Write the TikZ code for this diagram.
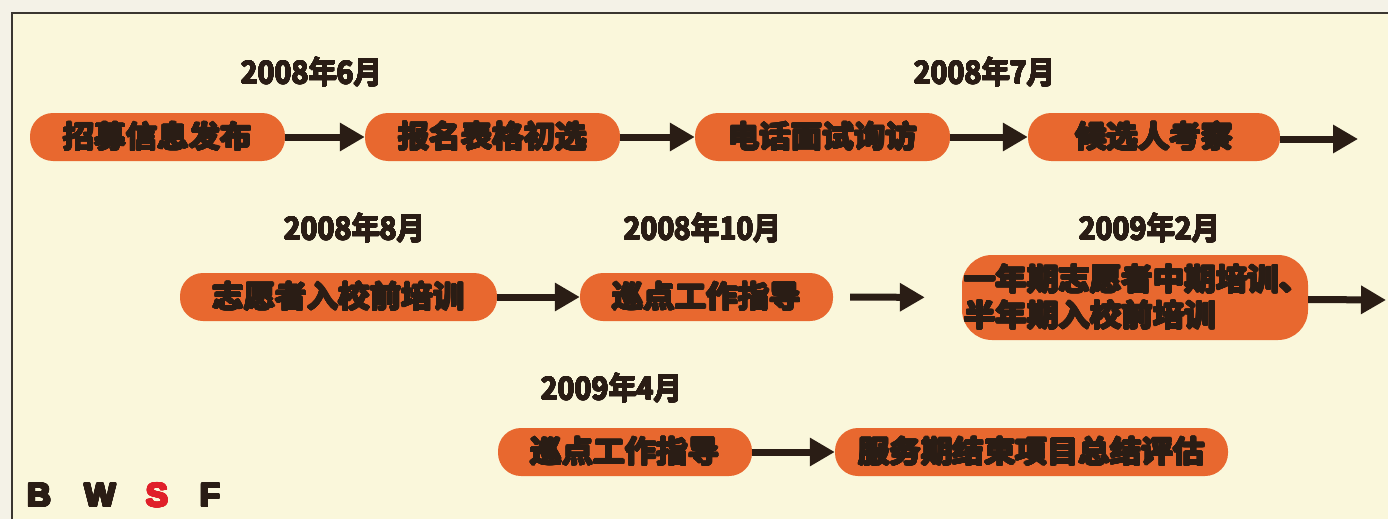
\documentclass[tikz,border=0pt]{standalone}
\usepackage{fontspec}
\usepackage[copies]{contour}
\usetikzlibrary{arrows.meta}
\newfontfamily\cjkheavy{Noto Sans CJK SC Bold}[FakeStretch=1.05]
\newfontfamily\datefont{Noto Sans CJK SC Bold}[FakeStretch=0.92]
\newfontfamily\latinblack{Liberation Sans Bold}
\definecolor{bgin}{HTML}{FAF7DB}
\definecolor{bgout}{HTML}{F4F2E7}
\definecolor{frame}{HTML}{3A3630}
\definecolor{pill}{HTML}{E8682F}
\definecolor{ink}{HTML}{2A1D15}
\definecolor{redS}{HTML}{E0202A}
\contournumber{24}
\newcommand{\heavy}[2][1pt]{\contourlength{#1}\contour{ink}{#2}}
\newcommand{\heavyc}[3][1pt]{\contourlength{#1}\contour{#2}{\textcolor{#2}{#3}}}
\tikzset{
  stage/.style={fill=pill, rounded corners=23pt, minimum height=48pt, inner sep=0pt,
    text=ink, font=\cjkheavy\fontsize{30pt}{34pt}\selectfont},
  datelbl/.style={text=ink, inner sep=0pt, font=\datefont\fontsize{31pt}{33pt}\selectfont},
  flow/.style={line width=7pt, draw=ink, -{Triangle[length=25pt,width=27pt]}},
  brand/.style={inner sep=0pt, font=\latinblack\fontsize{33pt}{35pt}\selectfont}
}
\begin{document}
\begin{tikzpicture}[x=1pt,y=-1pt]
\useasboundingbox (0,0) rectangle (1388,519);
\fill[bgout] (0,0) rectangle (1388,519);
\fill[bgin] (12,13) rectangle (1388,519);
\draw[frame, line width=2pt] (12,519) -- (12,13) -- (1388,13);

% dates
\node[datelbl] (d1) at (312,72) {\heavy[0.5pt]{2008年6月}};
\node[datelbl] (d2) at (985,72) {\heavy[0.5pt]{2008年7月}};
\node[datelbl] (d3) at (355,228) {\heavy[0.5pt]{2008年8月}};
\node[datelbl] (d4) at (703,228) {\heavy[0.5pt]{2008年10月}};
\node[datelbl] (d5) at (1150,228) {\heavy[0.5pt]{2009年2月}};
\node[datelbl] (d6) at (612,388) {\heavy[0.5pt]{2009年4月}};

% row 1
\node[stage, minimum width=255pt] (n1) at (157.5,137) {\heavy{招募信息发布}};
\node[stage, minimum width=255pt] (n2) at (492.5,137) {\heavy{报名表格初选}};
\node[stage, minimum width=255pt] (n3) at (822.5,137) {\heavy{电话面试询访}};
\node[stage, minimum width=252pt] (n4) at (1154,137) {\heavy{候选人考察}};
\coordinate (e1) at (1358,139);

% row 2
\node[stage, minimum width=317pt] (n5) at (338.5,297) {\heavy{志愿者入校前培训}};
\node[stage, minimum width=253pt] (n6) at (706.5,297) {\heavy{巡点工作指导}};
\node[stage, minimum width=346pt, minimum height=85pt, rounded corners=30pt] (n7) at (1135,297.5) {};
\node[inner sep=0pt, text=ink, font=\cjkheavy\fontsize{30pt}{36pt}\selectfont, align=left, anchor=west] (n7t) at (964,297.5) {\heavy{一年期志愿者中期培训、}\\\heavy{半年期入校前培训}};
\coordinate (e2) at (1386,300);

% row 3
\node[stage, minimum width=254pt] (n8) at (625,452) {\heavy{巡点工作指导}};
\node[stage, minimum width=393pt] (n9) at (1031.5,452) {\heavy{服务期结束项目总结评估}};

% connectors
\draw[flow] (n1.east) -- (n2.west);
\draw[flow] (n2.east) -- (n3.west);
\draw[flow] (n3.east) -- (n4.west);
\draw[flow] ([yshift=-2pt]n4.east) -- (e1);
\draw[flow] (n5.east) -- (n6.west);
\draw[flow, shorten <=17pt, shorten >=37pt] (n6.east) -- (n7.west);
\draw[flow] ([yshift=-2pt]n7.east) -- (e2);
\draw[flow] (n8.east) -- (n9.west);

% brand
\node[brand, text=ink] (b1) at (39,496) {\heavyc[1.2pt]{ink}{B}};
\node[brand, text=ink] (b2) at (100,496) {\heavyc[1.2pt]{ink}{W}};
\node[brand, text=redS] (b3) at (157,496) {\heavyc[1.2pt]{redS}{S}};
\node[brand, text=ink] (b4) at (210,496) {\heavyc[1.2pt]{ink}{F}};
\end{tikzpicture}
\end{document}
